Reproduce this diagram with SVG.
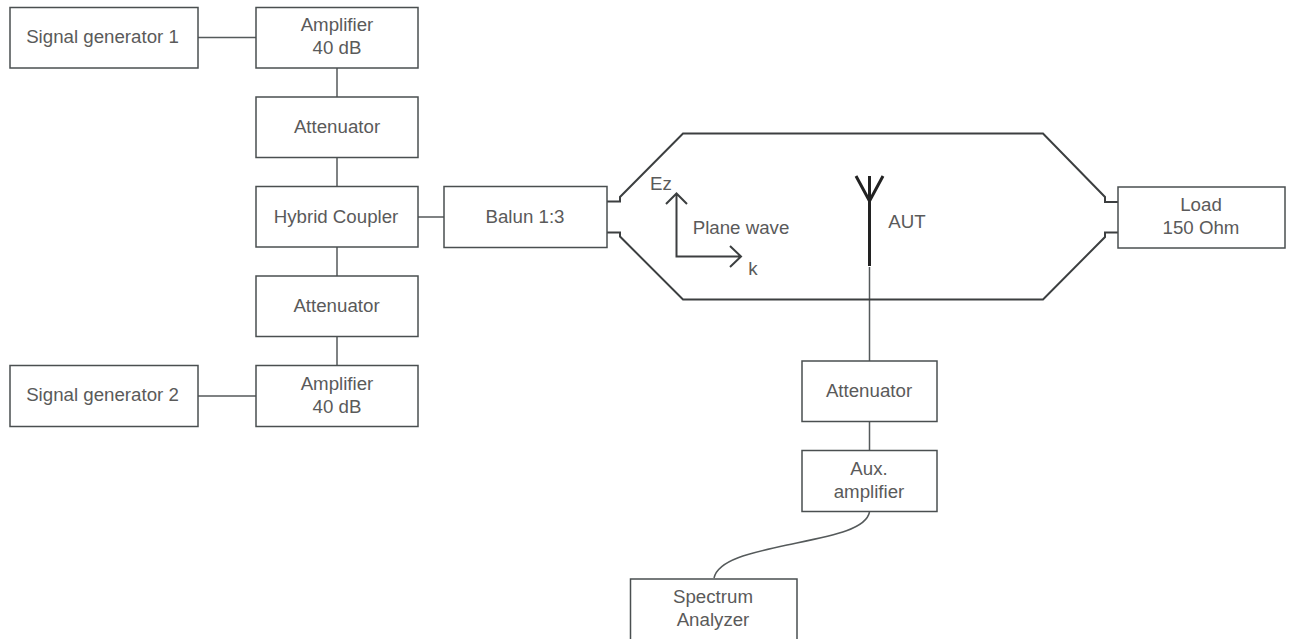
<svg xmlns="http://www.w3.org/2000/svg" width="1294" height="639" viewBox="0 0 1294 639">
<style>
.b{fill:#fff;stroke:#4a4f50;stroke-width:1.500}
.c{fill:none;stroke:#555a5b;stroke-width:1.500}
.w{fill:none;stroke:#3c3f40;stroke-width:2}
.t{font-family:"Liberation Sans",Arial,sans-serif;font-size:18.700px;fill:#5a5a5a;text-anchor:middle}
</style>
<rect width="1294" height="639" fill="#fff"/>
<g id="connectors">
<path class="c" d="M198 37.500H256M337 68V97M337 157V186M418 217H444M337 247V276M337 336V365M198 396H256M869.500 267V361M869.500 421V450"/>
<path class="c" d="M869.500 512C866 530 830 536 787 545C750 553 718 560 714 578"/>
<path class="w" d="M607 201.500H620V197L683 133.500H1043L1105 197V202H1118"/>
<path class="w" d="M607 232.500H620V236.500L683 299.500H1043L1105 237V232.500H1118"/>
<path class="w" d="M676.500 194V256.500H740M666 204L676.500 193.500L687 204M730 246L741 256.500L730 267"/>
<path d="M869.500 266V201M869.500 201L856 176M869.500 201L883 176M869.500 201V176" fill="none" stroke="#222" stroke-width="3"/>
</g>
<g id="n-sg1"><rect class="b" x="10" y="7.500" width="188" height="60.500"/><text class="t" x="102.500" y="43">Signal generator 1</text></g>
<g id="n-amp1"><rect class="b" x="256" y="7.500" width="162" height="60.500"/><text class="t" x="337" y="31">Amplifier</text><text class="t" x="337" y="54">40 dB</text></g>
<g id="n-att1"><rect class="b" x="256" y="97" width="162" height="60.500"/><text class="t" x="337" y="133">Attenuator</text></g>
<g id="n-hyb"><rect class="b" x="256" y="186.500" width="162" height="60.500"/><text class="t" x="336" y="223">Hybrid Coupler</text></g>
<g id="n-att2"><rect class="b" x="256" y="276" width="162" height="60.500"/><text class="t" x="336.500" y="312">Attenuator</text></g>
<g id="n-amp2"><rect class="b" x="256" y="365.500" width="162" height="61"/><text class="t" x="337" y="390">Amplifier</text><text class="t" x="337" y="413">40 dB</text></g>
<g id="n-sg2"><rect class="b" x="10" y="365.500" width="188" height="61"/><text class="t" x="102.500" y="401">Signal generator 2</text></g>
<g id="n-balun"><rect class="b" x="444" y="186.500" width="163" height="61"/><text class="t" x="525" y="223">Balun 1:3</text></g>
<g id="n-load"><rect class="b" x="1118" y="187" width="167" height="61"/><text class="t" x="1201" y="211">Load</text><text class="t" x="1201" y="234">150 Ohm</text></g>
<g id="n-att3"><rect class="b" x="802" y="361" width="135" height="60.500"/><text class="t" x="869" y="397">Attenuator</text></g>
<g id="n-aux"><rect class="b" x="802" y="450.500" width="135" height="61"/><text class="t" x="869" y="475">Aux.</text><text class="t" x="869" y="498">amplifier</text></g>
<g id="n-sa"><path class="b" d="M630.500 640V579H797V640"/><text class="t" x="713" y="603">Spectrum</text><text class="t" x="713" y="626">Analyzer</text></g>
<g id="labels">
<text class="t" x="661" y="190">Ez</text>
<text class="t" x="741" y="234">Plane wave</text>
<text class="t" x="753" y="275">k</text>
<text class="t" x="907" y="228">AUT</text>
</g>
</svg>
